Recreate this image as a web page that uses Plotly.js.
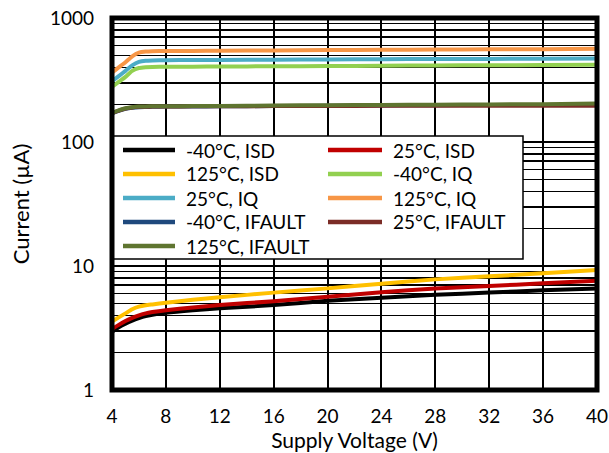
<!DOCTYPE html>
<html>
<head>
<meta charset="utf-8">
<script src="https://cdn.plot.ly/plotly-3.0.1.min.js"></script>
<style>
  html, body { margin: 0; padding: 0; background: #fff; }
  #chart { width: 609px; height: 453px; }
</style>
</head>
<body>
<div id="chart"></div>
<script>
// Supply voltage sweep (V)
const vsup = [4, 4.5, 5, 5.5, 6, 6.5, 7, 8, 10, 12, 16, 20, 24, 28, 32, 36, 40];

// Shutdown current ISD (µA)
const isdM40 = [2.95, 3.2, 3.42, 3.62, 3.8, 3.95, 4.05, 4.2, 4.4, 4.56, 4.84, 5.25, 5.55, 5.85, 6.1, 6.38, 6.6];
const isd25  = [3.1, 3.35, 3.6, 3.82, 4.0, 4.15, 4.25, 4.4, 4.62, 4.84, 5.2, 5.65, 6.15, 6.6, 6.9, 7.25, 7.6];
const isd125 = [3.56, 3.85, 4.15, 4.48, 4.7, 4.82, 4.9, 5.05, 5.35, 5.6, 6.1, 6.6, 7.2, 7.8, 8.25, 8.75, 9.3];

// Quiescent current IQ (µA)
const iqM40 = [278, 305, 335, 375, 395, 401, 403, 404, 405, 406, 408, 410, 412, 414, 416, 417, 419];
const iq25  = [309, 340, 375, 415, 442, 452, 455, 457, 458, 459, 461, 463, 465, 467, 468, 470, 471];
const iq125 = [363, 400, 440, 491, 525, 536, 540, 542, 543, 545, 548, 551, 554, 557, 559, 561, 564];

// Fault current IFAULT (µA)
const ifM40 = [170, 178, 185, 189, 191, 191.5, 192, 193, 193, 194, 195, 196, 197, 198, 199, 199, 200];
const if25  = [171, 179, 186, 190, 192, 192.5, 193, 193, 194, 194, 195, 195, 196, 196, 196, 196, 196];
const if125 = [172, 180, 187, 191, 193, 193.5, 194, 194, 195, 195, 197, 198, 199, 200, 201, 202, 204];

const seriesNames = [
  '-40°C, ISD', '25°C, ISD', '125°C, ISD',
  '-40°C, IQ', '25°C, IQ', '125°C, IQ',
  '-40°C, IFAULT', '25°C, IFAULT', '125°C, IFAULT'
];
const seriesValues = [isdM40, isd25, isd125, iqM40, iq25, iq125, ifM40, if25, if125];
const seriesColors = [
  '#000000', '#C00000', '#FFC000',
  '#92D050', '#4BACC6', '#F79646',
  '#1F497D', '#7B2C26', '#5F7530'
];

const xTicks = [4, 8, 12, 16, 20, 24, 28, 32, 36, 40];

const traces = seriesValues.map((vals, i) => ({
  x: vsup,
  y: vals,
  name: seriesNames[i],
  type: 'scatter',
  mode: 'lines',
  showlegend: false,
  line: { color: seriesColors[i], width: 4, shape: 'spline', smoothing: 0.5 }
}));

const family = 'Lato, "Open Sans", sans-serif';

// Plot area in pixels, used to lay out the two-column key in paper units
const M = { l: 112, r: 12, t: 18, b: 63 };
const W = 609, H = 453;
const pw = W - M.l - M.r, ph = H - M.t - M.b;
const px = v => (v - M.l) / pw;          // page x -> paper x
const py = v => (H - M.b - v) / ph;      // page y -> paper y

// Key layout: white box with two columns of swatches and labels
const key = { left: 113, top: 136, right: 523, bottom: 259, row0: 150, rowStep: 24,
              colLine: [[123, 175], [328, 382]], colText: [185, 392] };

const shapes = [{
  type: 'rect', xref: 'paper', yref: 'paper', layer: 'above',
  x0: px(key.left), x1: px(key.right), y0: py(key.bottom), y1: py(key.top),
  fillcolor: '#fff', line: { color: '#000', width: 1.5 }
}];
const annotations = [];
seriesNames.forEach((name, i) => {
  const col = i % 2, row = Math.floor(i / 2);
  const yy = py(key.row0 + row * key.rowStep);
  shapes.push({
    type: 'line', xref: 'paper', yref: 'paper', layer: 'above',
    x0: px(key.colLine[col][0]), x1: px(key.colLine[col][1]), y0: yy, y1: yy,
    line: { color: seriesColors[i], width: 4.5 }
  });
  annotations.push({
    xref: 'paper', yref: 'paper', x: px(key.colText[col]) , y: yy,
    xanchor: 'left', yanchor: 'middle', showarrow: false, text: name,
    font: { family: family, size: 19, color: '#000' }, borderpad: 0
  });
});

// Heavy frame around the plot area
shapes.push({
  type: 'rect', xref: 'paper', yref: 'paper',
  x0: 0, x1: 1, y0: 0, y1: 1,
  line: { color: '#000', width: 5 },
  layer: 'above'
});

const layout = {
  width: W,
  height: H,
  margin: M,
  paper_bgcolor: '#fff',
  plot_bgcolor: '#fff',
  font: { family: family, size: 19, color: '#000' },
  showlegend: false,
  xaxis: {
    range: [4, 40],
    tickmode: 'array',
    tickvals: xTicks,
    ticks: '',
    ticklabelstandoff: 13,
    showgrid: true,
    gridcolor: '#000',
    gridwidth: 2,
    zeroline: false,
    showline: false,
    tickfont: { family: family, size: 19, color: '#000' },
    title: { text: 'Supply Voltage (V)', font: { family: family, size: 21, color: '#000' }, standoff: 6 }
  },
  yaxis: {
    type: 'log',
    range: [0, 3],
    tickmode: 'linear',
    tick0: 0,
    dtick: 1,
    exponentformat: 'none',
    ticks: '',
    ticklabelstandoff: 17,
    showgrid: true,
    gridcolor: '#000',
    gridwidth: 2,
    minor: { dtick: 'D1', showgrid: true, gridcolor: '#000', gridwidth: 1.6, ticks: '' },
    zeroline: false,
    showline: false,
    tickfont: { family: family, size: 19, color: '#000' },
    title: { text: 'Current (µA)', font: { family: family, size: 22, color: '#000' }, standoff: 14 }
  },
  shapes: shapes,
  annotations: annotations
};

Plotly.newPlot('chart', traces, layout, { displayModeBar: false, staticPlot: true });
</script>
</body>
</html>
